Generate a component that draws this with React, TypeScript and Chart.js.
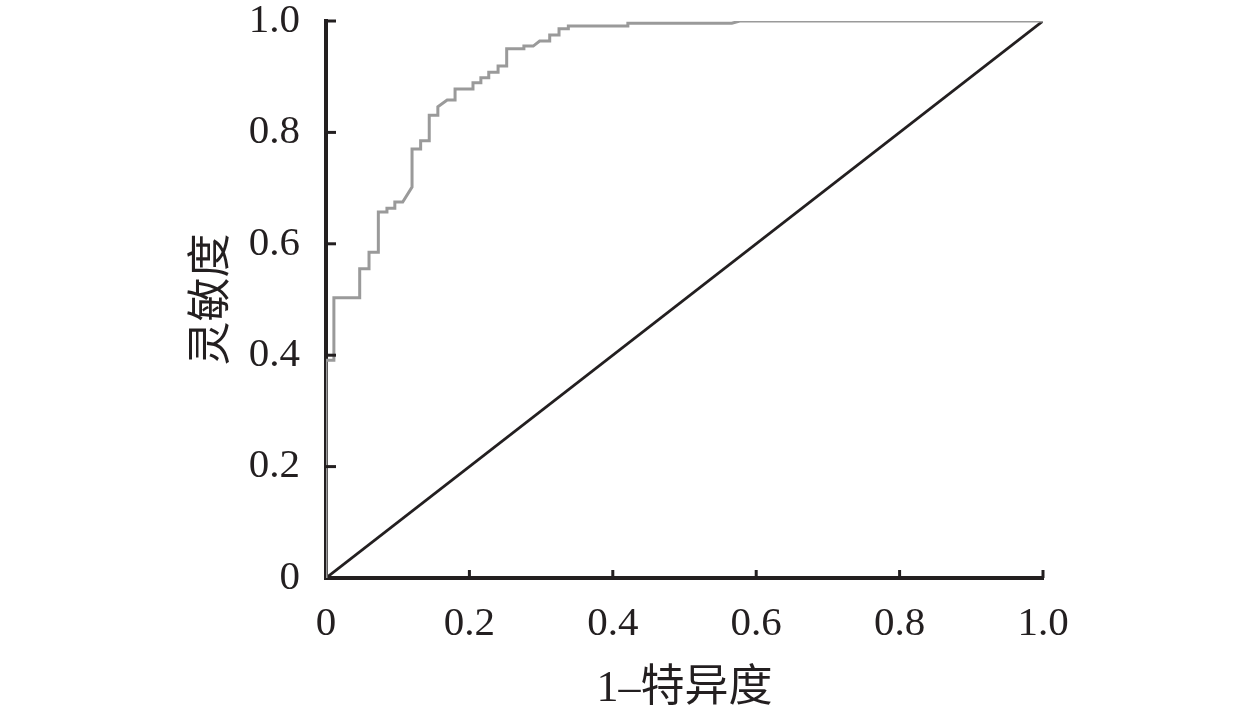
import React, { useEffect, useRef } from "react";
import { Chart, registerables } from "chart.js";

Chart.register(...registerables);

// ROC curve corner points (1 - specificity, sensitivity)
const fprValues = [
  0, 0, 0.011, 0.011, 0.047, 0.047, 0.06, 0.06, 0.073, 0.073, 0.085, 0.085, 0.096, 0.096,
  0.107, 0.12, 0.12, 0.132, 0.132, 0.144, 0.144, 0.156, 0.156, 0.169, 0.18, 0.18, 0.205,
  0.205, 0.216, 0.216, 0.227, 0.227, 0.24, 0.24, 0.252, 0.252, 0.276, 0.276, 0.289, 0.298,
  0.312, 0.312, 0.325, 0.325, 0.338, 0.338, 0.421, 0.421, 0.566, 0.577, 1.0,
];
const tprValues = [
  0, 0.391, 0.391, 0.503, 0.503, 0.555, 0.555, 0.585, 0.585, 0.657, 0.657, 0.664, 0.664, 0.675,
  0.675, 0.702, 0.77, 0.77, 0.785, 0.785, 0.831, 0.831, 0.846, 0.858, 0.858, 0.878, 0.878,
  0.889, 0.889, 0.898, 0.898, 0.908, 0.908, 0.919, 0.919, 0.95, 0.95, 0.955, 0.955, 0.964,
  0.964, 0.975, 0.975, 0.986, 0.986, 0.991, 0.991, 0.996, 0.996, 1.0, 1.0,
];
// Reference diagonal
const diagX = [0, 1];
const diagY = [0, 1];

const tickValues = [0, 0.2, 0.4, 0.6, 0.8, 1.0];
const xTitle = "1–特异度";
const yTitle = "灵敏度";

const AXIS_COLOR = "#231f20";
const SERIF = "'Liberation Serif', 'Noto Sans CJK SC', serif";

const inwardTicks = {
  id: "inwardTicks",
  afterDraw(chart: any) {
    const { ctx, chartArea, scales } = chart;
    ctx.save();
    ctx.strokeStyle = AXIS_COLOR;
    ctx.lineWidth = 3;
    ctx.lineCap = "butt";
    for (const v of tickValues) {
      if (v === 0) continue;
      const y = scales.y.getPixelForValue(v);
      ctx.beginPath();
      ctx.moveTo(chartArea.left, y);
      ctx.lineTo(chartArea.left + 10, y);
      ctx.stroke();
      const x = scales.x.getPixelForValue(v);
      ctx.beginPath();
      ctx.moveTo(x, chartArea.bottom);
      ctx.lineTo(x, chartArea.bottom - 8);
      ctx.stroke();
    }
    ctx.restore();
  },
};

export default function App() {
  const ref = useRef<HTMLCanvasElement | null>(null);

  useEffect(() => {
    document.body.style.margin = "0";
    const canvas = ref.current;
    if (!canvas) return;
    const fmt = (v: any) => (Number(v) === 0 ? "0" : Number(v).toFixed(1));
    const chart = new Chart(canvas, {
      type: "scatter",
      data: {
        datasets: [
          {
            label: "diag",
            data: diagX.map((x, i) => ({ x, y: diagY[i] })),
            showLine: true,
            borderColor: "#231f20",
            borderWidth: 2.8,
            pointRadius: 0,
            order: 2,
          },
          {
            label: "ROC",
            data: fprValues.map((x, i) => ({ x, y: tprValues[i] })),
            showLine: true,
            borderColor: "#9a9a9a",
            borderWidth: 3,
            pointRadius: 0,
            order: 1,
          },
        ],
      },
      options: {
        animation: false,
        responsive: false,
        devicePixelRatio: 1,
        layout: { padding: { top: 21, right: 217, left: 0, bottom: 0 } },
        plugins: { legend: { display: false }, tooltip: { enabled: false } },
        scales: {
          x: {
            type: "linear",
            min: 0,
            max: 1,
            afterFit: (s: any) => {
              s.height = 138;
              s.paddingLeft = 0;
              s.paddingRight = 0;
            },
            afterBuildTicks: (s: any) => {
              s.ticks = tickValues.map((v) => ({ value: v }));
            },
            grid: { drawOnChartArea: false, drawTicks: false },
            border: { display: true, color: AXIS_COLOR, width: 4 },
            ticks: {
              padding: 26,
              color: AXIS_COLOR,
              font: { family: SERIF, size: 41, lineHeight: 1 },
              callback: fmt,
              maxRotation: 0,
              autoSkip: false,
            },
            title: {
              display: true,
              text: xTitle,
              color: AXIS_COLOR,
              font: { family: SERIF, size: 44, lineHeight: 1.2 },
              padding: { top: 0, bottom: 0 },
            },
          },
          y: {
            type: "linear",
            min: 0,
            max: 1,
            afterFit: (s: any) => {
              s.width = 326;
              s.paddingTop = 0;
              s.paddingBottom = 0;
            },
            afterBuildTicks: (s: any) => {
              s.ticks = tickValues.map((v) => ({ value: v }));
            },
            grid: { drawOnChartArea: false, drawTicks: false },
            border: { display: true, color: AXIS_COLOR, width: 4 },
            ticks: {
              padding: 26,
              color: AXIS_COLOR,
              font: { family: SERIF, size: 41, lineHeight: 1 },
              callback: fmt,
              autoSkip: false,
            },
            title: {
              display: true,
              text: yTitle,
              color: AXIS_COLOR,
              font: { family: SERIF, size: 44, lineHeight: 1.2 },
              padding: { top: 187, bottom: 0 },
            },
          },
        },
      },
      plugins: [inwardTicks],
    });
    return () => chart.destroy();
  }, []);

  return (
    <div style={{ position: "absolute", left: 0, top: 0, width: 1260, height: 716, background: "#fff" }}>
      <canvas ref={ref} width={1260} height={716} style={{ display: "block" }} />
    </div>
  );
}
